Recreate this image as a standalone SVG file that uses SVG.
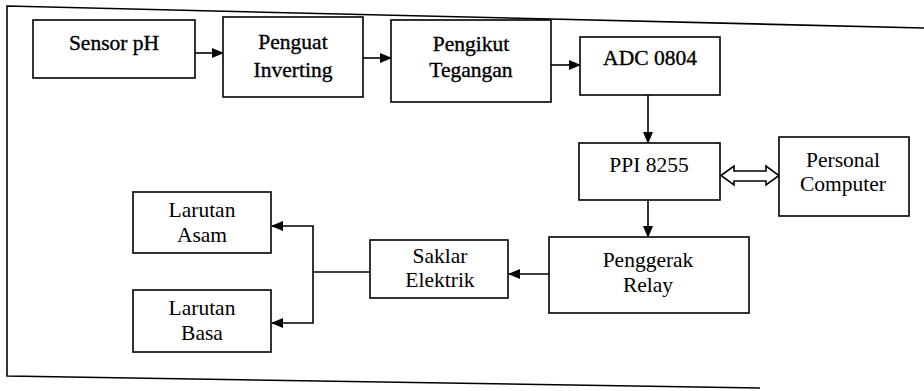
<svg xmlns="http://www.w3.org/2000/svg" width="924" height="391" viewBox="0 0 924 391">
<defs>
<marker id="ah" markerWidth="12" markerHeight="10" refX="11" refY="5" orient="auto" markerUnits="userSpaceOnUse">
<path d="M0,0 L12,5 L0,10 Z" fill="#000"/>
</marker>
<style>
.box{fill:#fff;stroke:#000;stroke-width:1.6}
.t{font-family:'Liberation Serif','DejaVu Serif',serif;font-size:21.5px;fill:#000;text-anchor:middle}
.b{stroke:#000;stroke-width:0.35}
.c{fill:none;stroke:#000;stroke-width:1.6}
.a{marker-end:url(#ah)}
</style>
</defs>
<rect width="924" height="391" fill="#fff"/>
<path d="M924,28 L7,6 L7,376 L760,388" fill="none" stroke="#000" stroke-width="1.6"/>
<g id="connectors">
<line class="c a" x1="195" y1="53" x2="223" y2="53"/>
<line class="c a" x1="363" y1="58" x2="391" y2="58"/>
<line class="c a" x1="551" y1="65" x2="580" y2="65"/>
<line class="c a" x1="648" y1="95" x2="648" y2="143"/>
<line class="c a" x1="648" y1="199" x2="648" y2="237"/>
<line class="c a" x1="549" y1="274" x2="509" y2="274"/>
<path class="c" d="M370,272 L313,272"/>
<path class="c a" d="M313,272 L313,226 L272,226"/>
<path class="c a" d="M313,272 L313,323 L272,323"/>
<path d="M721,175.5 L734,166 L734,171 L766,171 L766,166 L779,175.5 L766,185 L766,181 L734,181 L734,185 Z" fill="#fff" stroke="#000" stroke-width="1.6" stroke-linejoin="miter"/>
</g>
<g font-family="Liberation Serif, DejaVu Serif, serif">
<g id="sensor">
<rect class="box" x="33" y="20" width="162" height="58"/>
<text class="t b" x="114" y="50">Sensor pH</text>
</g>
<g id="penguat">
<rect class="box" x="223" y="17" width="140" height="80"/>
<text class="t b" x="293" y="49">Penguat</text>
<text class="t b" x="293" y="77">Inverting</text>
</g>
<g id="pengikut">
<rect class="box" x="391" y="20" width="160" height="82"/>
<text class="t b" x="471" y="51">Pengikut</text>
<text class="t b" x="471" y="77">Tegangan</text>
</g>
<g id="adc">
<rect class="box" x="580" y="37" width="140" height="58"/>
<text class="t b" x="650" y="65">ADC 0804</text>
</g>
<g id="ppi">
<rect class="box" x="579" y="143" width="141" height="57"/>
<text class="t" x="649" y="172">PPI 8255</text>
</g>
<g id="pc">
<rect class="box" x="779" y="137" width="130" height="79"/>
<text class="t" x="843" y="167">Personal</text>
<text class="t" x="843" y="191">Computer</text>
</g>
<g id="relay">
<rect class="box" x="549" y="237" width="200" height="76"/>
<text class="t" x="648" y="267">Penggerak</text>
<text class="t" x="648" y="292">Relay</text>
</g>
<g id="saklar">
<rect class="box" x="370" y="240" width="138" height="58"/>
<text class="t" x="440" y="263">Saklar</text>
<text class="t" x="440" y="287">Elektrik</text>
</g>
<g id="asam">
<rect class="box" x="133" y="192" width="138" height="61"/>
<text class="t" x="202" y="217">Larutan</text>
<text class="t" x="202" y="242">Asam</text>
</g>
<g id="basa">
<rect class="box" x="133" y="290" width="138" height="62"/>
<text class="t" x="202" y="315">Larutan</text>
<text class="t" x="202" y="340">Basa</text>
</g>
</g>
</svg>
